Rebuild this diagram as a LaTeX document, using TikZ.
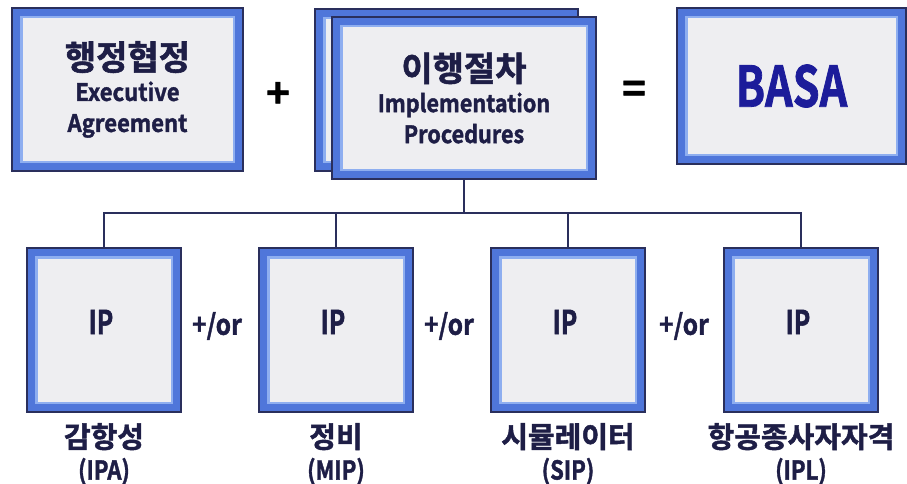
\documentclass[tikz,border=0pt]{standalone}
\usepackage{fontspec}
\setmainfont{Noto Sans CJK KR}[BoldFont={Noto Sans CJK KR Bold},BoldFeatures={FakeBold=1.6}]
\definecolor{framedark}{HTML}{2A2F5C}
\definecolor{frameblue}{HTML}{4F76DA}
\definecolor{framelight}{HTML}{8EAEF0}
\definecolor{panelgray}{HTML}{EEEEF1}
\definecolor{inkdark}{HTML}{1E1E46}
\definecolor{basablue}{HTML}{1C1C9A}
\newcommand{\hfont}{\fontsize{34}{31}\selectfont}
\newcommand{\efont}{\fontsize{24}{31}\selectfont}

\begin{document}
\begin{tikzpicture}[x=1pt,y=-1pt,
    frame/.style={draw=framedark,line width=1.3pt,fill=frameblue,
      text=inkdark,font=\bfseries\fontsize{22}{31}\selectfont,align=center,inner sep=0pt,
      path picture={
        \fill[framelight] ([shift={(8pt,8pt)}]path picture bounding box.south west)
          rectangle ([shift={(-8pt,-8pt)}]path picture bounding box.north east);
        \fill[panelgray] ([shift={(10.5pt,10.5pt)}]path picture bounding box.south west)
          rectangle ([shift={(-10.5pt,-10.5pt)}]path picture bounding box.north east);
      }},
    topbox/.style={frame,minimum width=231pt,minimum height=163pt},
    ipbox/.style={frame,minimum width=154pt,minimum height=164pt},
    sign/.style={font=\bfseries\fontsize{40}{40}\selectfont,text=black},
    tag/.style={font=\bfseries\fontsize{26}{32}\selectfont,text=inkdark,align=center}]
  \useasboundingbox (0,0) rectangle (907,484);

  % top row
  \node[topbox] (exec) at (127.5,89.5)
    {\hfont 행정협정\\\efont\scalebox{0.92}[1]{Executive}\\\efont\scalebox{0.92}[1]{Agreement}};
  \node[sign] (plus) at (278,95) {+};
  \node[topbox,minimum width=263pt,minimum height=162pt] (implback) at (446.5,90) {};
  \node[topbox,minimum width=264pt,minimum height=162pt] (impl) at (464,98)
    {\hfont 이행절차\\\efont\scalebox{0.9}[1]{Implementation}\\\efont\scalebox{0.9}[1]{Procedures}};
  \node[sign] (equals) at (634,92) {=};
  \node[topbox,minimum width=229pt,minimum height=156pt,text=basablue] (basa) at (791.5,86)
    {\scalebox{0.77}[1]{\fontsize{56}{56}\selectfont BASA}};

  % bottom row
  \coordinate (bus) at (464,213);
  \draw[framedark,line width=1.3pt] (impl.south) -- (bus);
  \foreach \i/\x/\kr/\en in {1/104/감항성/IPA,2/336/정비/MIP,3/568/시뮬레이터/SIP,4/801/항공종사자자격/IPL} {
    \node[ipbox] (ip\i) at (\x,330) {};
    \node[font=\bfseries\fontsize{33}{33}\selectfont,text=inkdark] (iptext\i) at (\x-3,322) {\scalebox{0.75}[1]{IP}};
    \node[tag] (lbl\i) at (\x,454) {{\fontsize{29}{31}\selectfont \kr}\\\scalebox{0.85}[1]{(\en)}};
    \draw[framedark,line width=1.3pt] (ip\i.north) |- (bus);
  }
  \foreach \i/\x in {1/217,2/449,3/684} {
    \node[font=\bfseries\fontsize{28}{28}\selectfont,text=inkdark] (andor\i) at (\x,326) {\scalebox{0.88}[1]{+/or}};
  }
\end{tikzpicture}
\end{document}
